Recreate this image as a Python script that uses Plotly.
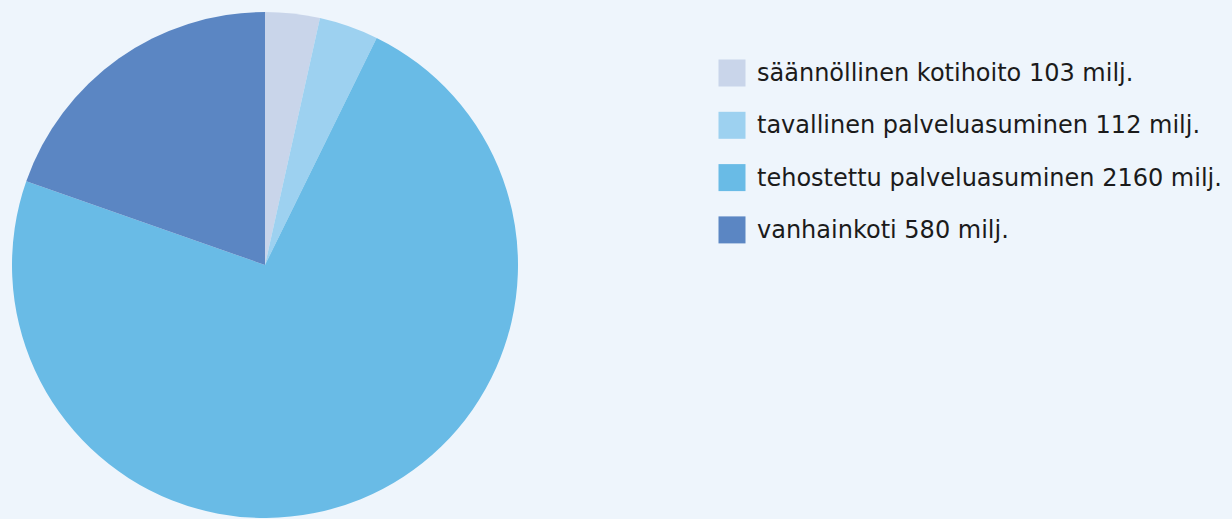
import plotly.graph_objects as go

categories = ["säännöllinen kotihoito", "tavallinen palveluasuminen",
              "tehostettu palveluasuminen", "vanhainkoti"]
values = [103, 112, 2160, 580]
value_labels = ["103 milj.", "112 milj.", "2160 milj.", "580 milj."]
colors = ["#c9d5ea", "#9dd1f0", "#69bbe6", "#5b86c3"]

W, H = 1232, 519
bg = "#eef5fc"

fig = go.Figure()
fig.add_trace(go.Pie(
    labels=categories, values=values, sort=False, direction="clockwise",
    rotation=0, marker=dict(colors=colors, line=dict(width=0)),
    textinfo="none", hoverinfo="label+value", showlegend=False,
    domain=dict(x=[12 / W, 518 / W], y=[1 / H, 507 / H]),
))

# custom legend
leg_x_marker = 732
leg_x_text = 755
leg_y0 = 73
leg_step = 52.3
ys = [leg_y0 + leg_step * i for i in range(len(categories))]
fig.add_trace(go.Scatter(
    x=[leg_x_marker] * len(categories), y=ys, mode="markers",
    marker=dict(symbol="square", size=27, color=colors, line=dict(width=0)),
    showlegend=False, hoverinfo="skip",
))
for c, v, y in zip(categories, value_labels, ys):
    fig.add_annotation(x=leg_x_text, y=y, xref="x", yref="y",
                       text=f"{c} {v}", showarrow=False,
                       xanchor="left", yanchor="middle",
                       font=dict(family="DejaVu Sans", size=24, color="#1b1b1b"))

fig.update_layout(
    width=W, height=H, margin=dict(l=0, r=0, t=0, b=0),
    paper_bgcolor=bg, plot_bgcolor="rgba(0,0,0,0)",
    xaxis=dict(range=[0, W], visible=False, fixedrange=True),
    yaxis=dict(range=[H, 0], visible=False, fixedrange=True),
)
fig.write_html("out.html")
